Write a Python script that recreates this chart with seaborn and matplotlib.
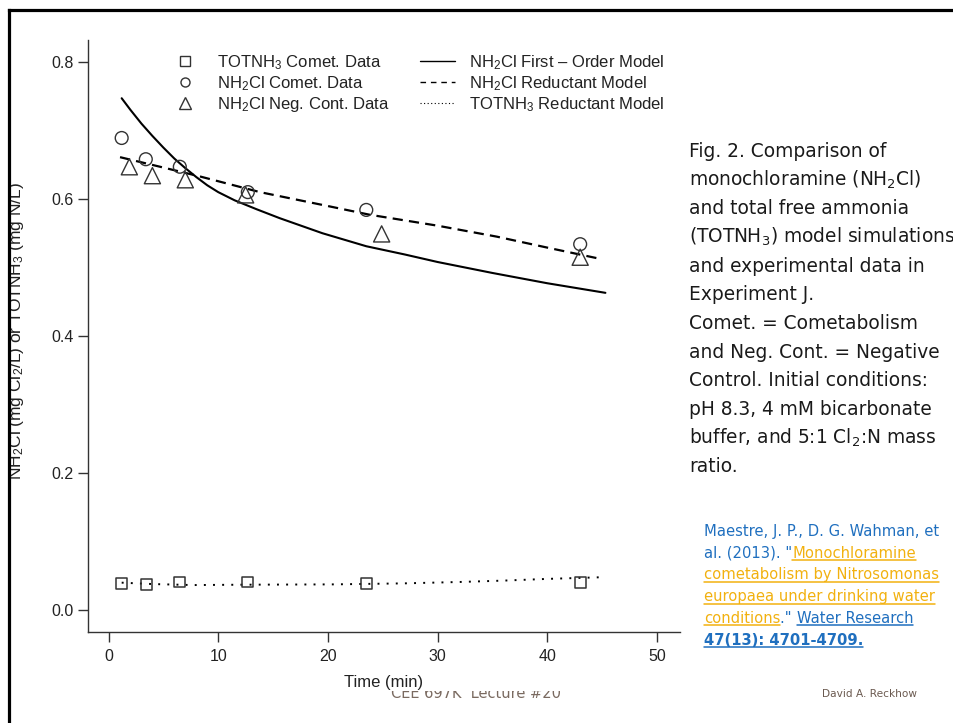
import numpy as np
import pandas as pd
import seaborn as sns
import matplotlib
import matplotlib.pyplot as plt
from matplotlib.lines import Line2D
from matplotlib.patches import Rectangle
from matplotlib.transforms import IdentityTransform

# ---------------- data ----------------
tot_t = [1.2, 3.5, 6.45, 12.7, 23.5, 43.0]
tot_y = [0.039, 0.0375, 0.041, 0.041, 0.039, 0.040]

cmt_t = [1.2, 3.4, 6.5, 12.7, 23.5, 43.0]
cmt_y = [0.689, 0.658, 0.647, 0.610, 0.584, 0.534]

neg_t = [1.9, 4.0, 7.0, 12.5, 24.9, 43.0]
neg_y = [0.647, 0.634, 0.628, 0.606, 0.549, 0.515]

fo_t = [1.2, 2.0, 3.0, 4.0, 5.0, 6.0, 7.0, 8.0, 9.0, 10.0, 11.5, 13.5, 15.6, 19.5, 23.5, 27.0, 30.0, 35.0, 40.0, 45.3]
fo_y = [0.747, 0.730, 0.710, 0.692, 0.675, 0.659, 0.645, 0.632, 0.620, 0.610, 0.598, 0.585, 0.572, 0.550, 0.531, 0.519, 0.508, 0.492, 0.477, 0.463]

rd_t = [1.05, 4.7, 8.3, 13.8, 20.2, 23.8, 30.0, 35.4, 40.0, 45.0]
rd_y = [0.661, 0.647, 0.633, 0.610, 0.589, 0.577, 0.561, 0.545, 0.529, 0.512]

tr_t = [1.2, 4.0, 7.7, 12.0, 20.5, 27.0, 32.0, 36.0, 40.0, 45.1]
tr_y = [0.040, 0.038, 0.0365, 0.037, 0.0375, 0.039, 0.041, 0.043, 0.0455, 0.048]

x_ticks = [0, 10, 20, 30, 40, 50]
y_ticks = [0.0, 0.2, 0.4, 0.6, 0.8]
y_tick_labels = ["0.0", "0.2", "0.4", "0.6", "0.8"]

legend_labels = ["TOTNH$_3$ Comet. Data", "NH$_2$Cl Comet. Data", "NH$_2$Cl Neg. Cont. Data",
                 "NH$_2$Cl First \u2013 Order Model", "NH$_2$Cl Reductant Model", "TOTNH$_3$ Reductant Model"]

caption_lines = ["Fig. 2. Comparison of", "monochloramine (NH$_2$Cl)", "and total free ammonia",
                 "(TOTNH$_3$) model simulations", "and experimental data in", "Experiment J.",
                 "Comet. = Cometabolism", "and Neg. Cont. = Negative", "Control. Initial conditions:",
                 "pH 8.3, 4 mM bicarbonate", "buffer, and 5:1 Cl$_2$:N mass", "ratio."]

BLUE = "#1f6fbf"
ORANGE = "#f2b10f"
ref_lines = [
    [("Maestre, J. P., D. G. Wahman, et", BLUE, False, False)],
    [('al. (2013). "', BLUE, False, False), ("Monochloramine", ORANGE, False, True)],
    [("cometabolism by Nitrosomonas", ORANGE, False, True)],
    [("europaea under drinking water", ORANGE, False, True)],
    [("conditions", ORANGE, False, True), ('." ', BLUE, False, False), ("Water Research", BLUE, False, True)],
    [("47(13): 4701-4709.", BLUE, True, True)],
]

# ---------------- style ----------------
sns.set_theme(style="ticks")
plt.rcParams['font.family'] = ['Liberation Sans', 'DejaVu Sans']
plt.rcParams['mathtext.fontset'] = 'custom'
plt.rcParams['mathtext.rm'] = 'Liberation Sans'
plt.rcParams['mathtext.it'] = 'Liberation Sans:italic'
plt.rcParams['mathtext.bf'] = 'Liberation Sans:bold'

W, H = 954, 723
fig = plt.figure(figsize=(W / 100, H / 100), dpi=100)
fig.patch.set_facecolor('white')

ax = fig.add_axes([88 / W, 1 - 632 / H, 592 / W, 592 / H])
ax.set_facecolor('white')

INK = '#222222'
EDGE = '#333333'

sns.lineplot(x=fo_t, y=fo_y, ax=ax, color='black', lw=1.5, estimator=None)
sns.lineplot(x=rd_t, y=rd_y, ax=ax, color='black', lw=1.6, estimator=None, linestyle=(0, (4.6, 2.8)))
sns.lineplot(x=tr_t, y=tr_y, ax=ax, color='black', lw=1.4, estimator=None, linestyle=(0, (1, 3.7)))

sns.scatterplot(x=tot_t, y=tot_y, ax=ax, marker='s', s=62, facecolor='none', edgecolor=EDGE, linewidth=1.1, zorder=3)
sns.scatterplot(x=cmt_t, y=cmt_y, ax=ax, marker='o', s=85, facecolor='none', edgecolor=EDGE, linewidth=1.0, zorder=3)
sns.scatterplot(x=neg_t, y=neg_y, ax=ax, marker='^', s=135, facecolor='none', edgecolor=EDGE, linewidth=1.0, zorder=3)

ax.set_xlim(-1.87, 52.1)
ax.set_ylim(-0.032, 0.832)
ax.set_xticks(x_ticks)
ax.set_yticks(y_ticks)
ax.set_yticklabels(y_tick_labels)
for s in ['top', 'right']:
    ax.spines[s].set_visible(False)
for s in ['left', 'bottom']:
    ax.spines[s].set_color(EDGE)
    ax.spines[s].set_linewidth(1.0)
ax.tick_params(axis='both', direction='out', length=7, width=1.0, color=EDGE,
               labelsize=11.5, labelcolor=INK)
ax.tick_params(axis='x', pad=5)
ax.tick_params(axis='y', pad=3.5)
ax.grid(False)

ax.set_xlabel("Time (min)", fontsize=12, color=INK)
ax.set_ylabel("NH$_2$Cl (mg Cl$_2$/L) or TOTNH$_3$ (mg N/L)", fontsize=12.5, color=INK)
ax.xaxis.set_label_coords(0.5, -0.072)
ax.yaxis.set_label_coords(-0.104, 0.508)

handles = [
    Line2D([], [], marker='s', ls='', mfc='none', mec=EDGE, ms=6.5, mew=1.0),
    Line2D([], [], marker='o', ls='', mfc='none', mec=EDGE, ms=6.5, mew=1.0),
    Line2D([], [], marker='^', ls='', mfc='none', mec=EDGE, ms=8, mew=1.0),
    Line2D([], [], color='black', lw=1.0),
    Line2D([], [], color='black', lw=1.0, linestyle=(0, (4, 3.5))),
    Line2D([], [], color='black', lw=0.8, linestyle=(0, (1, 2.2))),
]
leg = ax.legend(handles, legend_labels, ncol=2, loc='upper left',
                bbox_to_anchor=(168 / W, 1 - 53 / H), bbox_transform=fig.transFigure,
                frameon=False, fontsize=12, handlelength=2.1, handletextpad=0.85,
                columnspacing=1.8, labelspacing=0.14, borderpad=0, borderaxespad=0)
for t in leg.get_texts():
    t.set_color(INK)

# ---------------- slide elements ----------------
IT = IdentityTransform()

def ptext(x, y, s, **kw):
    return fig.text(x, H - y, s, transform=IT, **kw)

# caption
for i, line in enumerate(caption_lines):
    ptext(689, 157.3 + 28.6 * i, line, fontsize=13.4, family='DejaVu Sans', color='#1a1a1a',
          va='baseline', ha='left', math_fontfamily='dejavusans')

# reference with underlines
fig.canvas.draw()
renderer = fig.canvas.get_renderer()

def width_of(s, **kw):
    t = ptext(0, 0, s, **kw)
    w = t.get_window_extent(renderer).width
    t.remove()
    return w

for i, segs in enumerate(ref_lines):
    x = 704.0
    y = 535.7 + 21.8 * i
    for txt, col, bold, ul in segs:
        kw = dict(fontsize=10.6, family='DejaVu Sans', color=col, va='baseline', ha='left',
                  fontweight='bold' if bold else 'normal')
        t = ptext(x, y, txt, **kw)
        bb = t.get_window_extent(renderer)
        adv = width_of(txt + '|', **kw) - width_of('|', **kw)
        if ul:
            fig.add_artist(Line2D([bb.x0, bb.x1], [H - y - 2.5, H - y - 2.5], transform=IT,
                                  color=col, lw=1.1))
        x += adv

ptext(870, 697, "David A. Reckhow", fontsize=7.6, family='DejaVu Sans', color='#6b5a50',
      va='baseline', ha='center')

# footer partially hidden behind chart image
ptext(476, 698, "CEE 697K  Lecture #20", fontsize=10.5, family='DejaVu Sans', color='#7a6a60',
      va='baseline', ha='center', zorder=-3)
fig.add_artist(Rectangle((370, H - 691), 240, 60, transform=IT, facecolor='white',
                         edgecolor='none', zorder=-2))

# slide border
fig.add_artist(Line2D([8.5, 8.5], [0, H - 9.5], transform=IT, color='black', lw=2.3,
                      solid_capstyle='projecting'))
fig.add_artist(Line2D([8.5, W], [H - 9.5, H - 9.5], transform=IT, color='black', lw=2.3,
                      solid_capstyle='projecting'))

fig.savefig('out.png', dpi=100, facecolor='white')
